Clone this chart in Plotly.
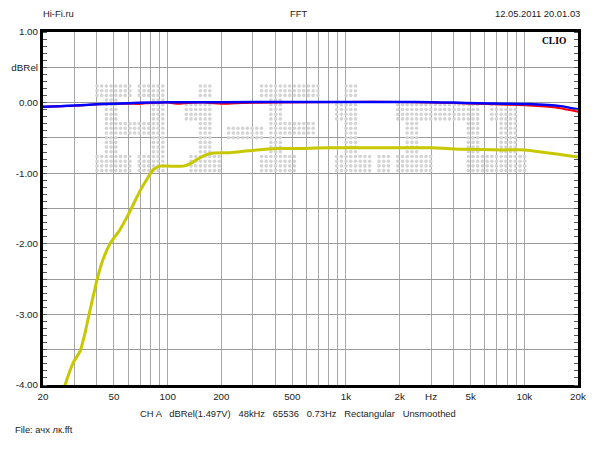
import numpy as np
import plotly.graph_objects as go

# ---------------- data ----------------
yellow_freq = [24, 26.6, 29.6, 32.3, 34.3, 36.4, 40, 43, 47.5, 54, 60, 66, 70, 78, 83, 90, 103, 122,
               135, 145, 160, 180, 224, 315, 418, 574, 813, 2960, 4530, 7600, 10100, 20000]
yellow_db = [-4.4, -4.0, -3.68, -3.52, -3.28, -2.98, -2.53, -2.25, -2.0, -1.80, -1.59, -1.38, -1.25,
             -1.05, -0.95, -0.90, -0.90, -0.90, -0.86, -0.81, -0.75, -0.715, -0.71, -0.67, -0.65,
             -0.65, -0.64, -0.64, -0.66, -0.67, -0.67, -0.77]

red_freq = [20, 25, 30, 35, 40, 50, 60, 70, 80, 100, 115, 130, 160, 210, 260, 400, 1000, 2000, 3000,
            4000, 6000, 8000, 10500, 15000, 20000]
red_db = [-0.06, -0.05, -0.045, -0.035, -0.025, -0.018, -0.015, -0.018, -0.005, 0.0, -0.018, -0.005,
          0.0, -0.018, -0.005, 0.0, 0.01, 0.01, 0.0, -0.005, -0.02, -0.03, -0.04, -0.07, -0.13]

blue_freq = [20, 25, 30, 40, 50, 60, 80, 100, 200, 500, 1000, 2000, 3000, 4000, 5500, 8000, 10500,
             16000, 20000]
blue_db = [-0.06, -0.05, -0.04, -0.025, -0.015, -0.008, 0.0, 0.005, 0.005, 0.01, 0.01, 0.01, 0.005,
           0.0, -0.01, -0.015, -0.02, -0.05, -0.095]

x_tickvals = [20, 30, 40, 50, 60, 70, 80, 90, 100, 200, 300, 400, 500, 600, 700, 800, 900,
              1000, 2000, 3000, 4000, 5000, 6000, 7000, 8000, 9000, 10000, 20000]
x_ticktext = ["20", "", "", "50", "", "", "", "", "100", "200", "", "", "500", "", "", "", "",
              "1k", "2k", "Hz", "", "5k", "", "", "", "", "10k", "20k"]
y_tickvals = [1.0, 0.5, 0.0, -0.5, -1.0, -1.5, -2.0, -2.5, -3.0, -3.5, -4.0]
y_ticktext = ["1.00", "dBRel", "0.00", "", "-1.00", "", "-2.00", "", "-3.00", "", "-4.00"]

# ---------------- geometry (page px; the page body adds an 8 px offset) ----------------
OFF = 8
W, H = 600 - OFF, 450 - OFF
PX0, PX1, PY0, PY1 = 43, 578, 32, 385   # plot area in page pixels
XMIN, XMAX = np.log10(20), np.log10(20000)
YMIN, YMAX = -4.0, 1.0


def px_to_freq(px):
    return 10 ** (XMIN + (px - PX0) / (PX1 - PX0) * (XMAX - XMIN))


def py_to_db(py):
    return YMAX - (py - PY0) / (PY1 - PY0) * (YMAX - YMIN)


def paper_x(px):
    return (px - PX0) / (PX1 - PX0)


def paper_y(py):
    return (PY1 - py) / (PY1 - PY0)


# decorative dotted watermark (rectangles of the dot-matrix logo, in page px)
wm_rects = [
    (97, 130, 85, 97), (105, 118, 85, 170), (105, 150, 120, 135), (97, 130, 155, 170),
    (140, 165, 85, 97), (150, 163, 85, 170), (140, 165, 155, 170),
    (197, 212, 85, 97), (187, 212, 103, 120), (197, 212, 103, 170), (190, 220, 155, 170),
    (228, 262, 125, 140),
    (258, 320, 85, 97), (268, 283, 85, 170), (268, 313, 120, 135), (258, 295, 155, 170),
    (345, 357, 85, 97), (335, 357, 105, 120), (345, 357, 105, 170), (335, 370, 155, 170),
    (378, 392, 155, 170),
    (395, 445, 105, 118), (405, 420, 105, 170), (395, 430, 155, 170),
    (450, 475, 105, 118), (465, 478, 105, 170), (465, 527, 155, 170), (490, 515, 105, 118),
    (500, 515, 105, 170),
]
step = 4.7
gx = np.arange(97, 545, step)
gy = np.arange(86, 172, step)
pts = set()
for x0, x1, y0, y1 in wm_rects:
    for i, xv in enumerate(gx):
        if x0 - 1 <= xv <= x1 + 1:
            for j, yv in enumerate(gy):
                if y0 - 1 <= yv <= y1 + 1:
                    pts.add((i, j))
wx = [px_to_freq(gx[i]) for i, j in sorted(pts)]
wy = [py_to_db(gy[j]) for i, j in sorted(pts)]

fig = go.Figure()
fig.add_trace(go.Scatter(x=wx, y=wy, mode="markers",
                         marker=dict(size=3.6, color="#d4d4d4"), hoverinfo="skip",
                         showlegend=False))
fig.add_trace(go.Scatter(x=yellow_freq, y=yellow_db, mode="lines",
                         line=dict(color="#c8c800", width=3, shape="spline", smoothing=0.4),
                         showlegend=False))
fig.add_trace(go.Scatter(x=red_freq, y=red_db, mode="lines",
                         line=dict(color="#ff0000", width=2, shape="spline", smoothing=0.5),
                         showlegend=False))
fig.add_trace(go.Scatter(x=blue_freq, y=blue_db, mode="lines",
                         line=dict(color="#0000ff", width=2.5, shape="spline", smoothing=0.5),
                         showlegend=False))

font_main = "Liberation Sans, Arial, sans-serif"
FS = 9.4

fig.update_layout(
    width=W, height=H,
    margin=dict(l=PX0 - OFF, r=W - (PX1 - OFF), t=PY0 - OFF, b=H - (PY1 - OFF), autoexpand=False),
    paper_bgcolor="white", plot_bgcolor="white",
    font=dict(family=font_main, size=FS, color="#222222"),
    xaxis=dict(type="log", range=[XMIN, XMAX], tickmode="array", tickvals=x_tickvals,
               ticktext=x_ticktext, showgrid=True, gridcolor="#a8a8a8", gridwidth=1,
               showline=True, linecolor="black", linewidth=3, mirror=True, automargin=False,
               ticks="", zeroline=False, tickfont=dict(size=FS + 0.4)),
    yaxis=dict(range=[YMIN, YMAX], tickmode="array", tickvals=y_tickvals, ticktext=y_ticktext,
               showgrid=True, gridcolor="#999999", gridwidth=1, automargin=False,
               showline=True, linecolor="black", linewidth=3, mirror="ticks",
               ticks="", zeroline=False, tickfont=dict(size=FS + 0.4),
               minor=dict(tick0=0, dtick=0.1, ticks="inside", ticklen=4, tickcolor="#555555",
                          showgrid=False)),
)

annots = [
    dict(text="Hi-Fi.ru", x=paper_x(41), y=paper_y(14), xanchor="left"),
    dict(text="FFT", x=paper_x(298), y=paper_y(14), xanchor="center"),
    dict(text="12.05.2011 20.01.03", x=paper_x(582), y=paper_y(14), xanchor="right"),
    dict(text="CH A   dBRel(1.497V)   48kHz   65536   0.73Hz   Rectangular   Unsmoothed",
         x=paper_x(298), y=paper_y(413), xanchor="center"),
    dict(text="File: ачх лк.fft", x=paper_x(13), y=paper_y(430), xanchor="left"),
]
for a in annots:
    fig.add_annotation(xref="paper", yref="paper", yanchor="middle", showarrow=False,
                       font=dict(family=font_main, size=FS, color="#222222"), **a)
fig.add_annotation(xref="paper", yref="paper", x=paper_x(554), y=paper_y(41),
                   text="<b>CLIO</b>", showarrow=False, xanchor="center", yanchor="middle",
                   font=dict(family="Liberation Serif, Times New Roman, serif", size=9.5,
                             color="black"))

fig.write_html("out.html")
